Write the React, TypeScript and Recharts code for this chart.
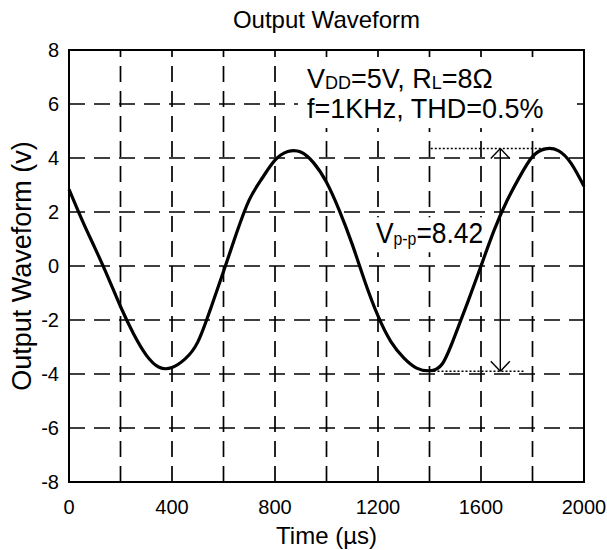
import React from 'react';
import { LineChart, Line, XAxis, YAxis, ReferenceLine, ReferenceArea, ReferenceDot } from 'recharts';

// ---- data ----
const timeUs = [0, 50, 100, 150, 200, 250, 300, 350, 400, 450, 500, 550, 600, 650, 700, 750, 800, 850, 900, 950, 1000, 1050, 1100, 1150, 1200, 1250, 1300, 1350, 1400, 1450, 1500, 1550, 1600, 1650, 1700, 1750, 1800, 1850, 1900, 1950, 2000];
const voltage = [2.84, 1.72, 0.68, -0.38, -1.5, -2.5, -3.3, -3.75, -3.76, -3.45, -2.82, -1.58, -0.2, 1.2, 2.45, 3.25, 3.92, 4.24, 4.22, 3.82, 3.1, 2.05, 0.8, -0.6, -1.85, -2.8, -3.4, -3.78, -3.88, -3.62, -2.55, -1.3, 0, 1.3, 2.4, 3.3, 4.05, 4.34, 4.27, 3.8, 2.95];

const timeTicks = [0, 400, 800, 1200, 1600, 2000];
const voltTicks = [-8, -6, -4, -2, 0, 2, 4, 6, 8];
const gridTimes = [200, 400, 600, 800, 1000, 1200, 1400, 1600, 1800];
const gridVolts = [-6, -4, -2, 0, 2, 4, 6];

const vppHigh = 4.35;
const vppLow = -3.9;
const arrowTime = 1675;

const data = timeUs.map((t, i) => ({ t, v: voltage[i] }));

const FONT = '"Liberation Sans", Arial, Helvetica, sans-serif';

const AxisXLabel = (props: any) => {
  const vb = props.viewBox || {};
  return (
    <text x={vb.x + vb.width / 2} y={vb.y + 62} textAnchor="middle" fontSize={24} fill="#000" fontFamily={FONT}>
      Time (µs)
    </text>
  );
};

const AxisYLabel = (props: any) => {
  const vb = props.viewBox || {};
  const cx = 31;
  const cy = vb.y + vb.height / 2;
  return (
    <text x={cx} y={cy} transform={`rotate(-90 ${cx} ${cy})`} textAnchor="middle" fontSize={27} fill="#000" fontFamily={FONT}>
      Output Waveform (v)
    </text>
  );
};

const TitleLabel = (props: any) => {
  const vb = props.viewBox || {};
  return (
    <text x={vb.x} y={vb.y - 22} textAnchor="middle" fontSize={24} fill="#000" fontFamily={FONT}>
      Output Waveform
    </text>
  );
};

const CondLine1 = (props: any) => {
  const vb = props.viewBox || {};
  return (
    <g>
      <rect x={vb.x - 9} y={vb.y - 31} width={279} height={71} fill="#fff" />
      <text x={vb.x} y={vb.y} fontSize={27} fill="#000" fontFamily={FONT}>
        <tspan>V</tspan>
        <tspan fontSize={18} dy={1}>DD</tspan>
        <tspan dy={-1}>=5V, R</tspan>
        <tspan fontSize={18} dy={1}>L</tspan>
        <tspan dy={-1}>=8Ω</tspan>
      </text>
    </g>
  );
};

const CondLine2 = (props: any) => {
  const vb = props.viewBox || {};
  return (
    <text x={vb.x} y={vb.y} fontSize={27} fill="#000" fontFamily={FONT}>
      f=1KHz, THD=0.5%
    </text>
  );
};

const VppLabel = (props: any) => {
  const vb = props.viewBox || {};
  return (
    <g transform={`translate(${vb.x} ${vb.y})`}>
      <rect x={-4} y={-26} width={110} height={35} fill="#fff" />
      <text x={0} y={0} transform="scale(0.88 1)" fontSize={30} fill="#000" fontFamily={FONT}>
        <tspan>V</tspan>
        <tspan fontSize={18} dy={2}>p-p</tspan>
        <tspan dy={-2}>=8.42</tspan>
      </text>
    </g>
  );
};

const gridStyle = { stroke: '#000', strokeWidth: 1.7, strokeDasharray: '16 9' };

export default function App() {
  return (
    <div style={{ position: 'absolute', left: 0, top: 0, width: 607, height: 550, background: '#fff', fontFamily: FONT }}>
      <LineChart width={607} height={550} data={data} margin={{ top: 50, right: 23, bottom: 0, left: 0 }}>
        <XAxis
          dataKey="t"
          type="number"
          domain={[0, 2000]}
          ticks={timeTicks}
          interval={0}
          axisLine={false}
          tickLine={false}
          tickSize={0}
          tickMargin={18}
          height={68}
          tick={{ fill: '#000', fontSize: 20, fontFamily: FONT }}
          label={AxisXLabel}
        />
        <YAxis
          type="number"
          domain={[-8, 8]}
          ticks={voltTicks}
          interval={0}
          axisLine={false}
          tickLine={false}
          tickSize={0}
          tickMargin={10}
          width={69}
          tick={{ fill: '#000', fontSize: 20, fontFamily: FONT }}
          label={AxisYLabel}
        />
        {gridTimes.map((t) => (
          <ReferenceLine key={'gx' + t} x={t} {...gridStyle} />
        ))}
        {gridVolts.map((v) => (
          <ReferenceLine key={'gy' + v} y={v} {...gridStyle} />
        ))}
        <Line
          type="natural"
          dataKey="v"
          stroke="#000"
          strokeWidth={3.2}
          dot={false}
          activeDot={false}
          isAnimationActive={false}
        />
        {/* peak-to-peak markers */}
        <ReferenceLine segment={[{ x: 1405, y: vppHigh }, { x: 1860, y: vppHigh }]} stroke="#000" strokeWidth={1.4} strokeDasharray="2 2" />
        <ReferenceLine segment={[{ x: 1400, y: vppLow }, { x: 1765, y: vppLow }]} stroke="#000" strokeWidth={1.4} strokeDasharray="2 2" />
        <ReferenceLine segment={[{ x: arrowTime, y: vppHigh }, { x: arrowTime, y: vppLow }]} stroke="#000" strokeWidth={1.4} />
        <ReferenceLine segment={[{ x: arrowTime - 37, y: vppHigh - 0.37 }, { x: arrowTime, y: vppHigh }]} stroke="#000" strokeWidth={1.4} />
        <ReferenceLine segment={[{ x: arrowTime, y: vppHigh }, { x: arrowTime + 37, y: vppHigh - 0.37 }]} stroke="#000" strokeWidth={1.4} />
        <ReferenceLine segment={[{ x: arrowTime - 37, y: vppLow + 0.37 }, { x: arrowTime, y: vppLow }]} stroke="#000" strokeWidth={1.4} />
        <ReferenceLine segment={[{ x: arrowTime, y: vppLow }, { x: arrowTime + 37, y: vppLow + 0.37 }]} stroke="#000" strokeWidth={1.4} />
        <ReferenceDot x={924} y={6.59} r={0} fill="none" stroke="none" label={CondLine1} />
        <ReferenceDot x={924} y={5.48} r={0} fill="none" stroke="none" label={CondLine2} />
        <ReferenceDot x={1192} y={0.84} r={0} fill="none" stroke="none" label={VppLabel} />
        <ReferenceDot x={1000} y={8} r={0} fill="none" stroke="none" label={TitleLabel} />
        <ReferenceArea x1={0} x2={2000} y1={-8} y2={8} fill="none" fillOpacity={0} stroke="#000" strokeWidth={2} />
      </LineChart>
    </div>
  );
}
